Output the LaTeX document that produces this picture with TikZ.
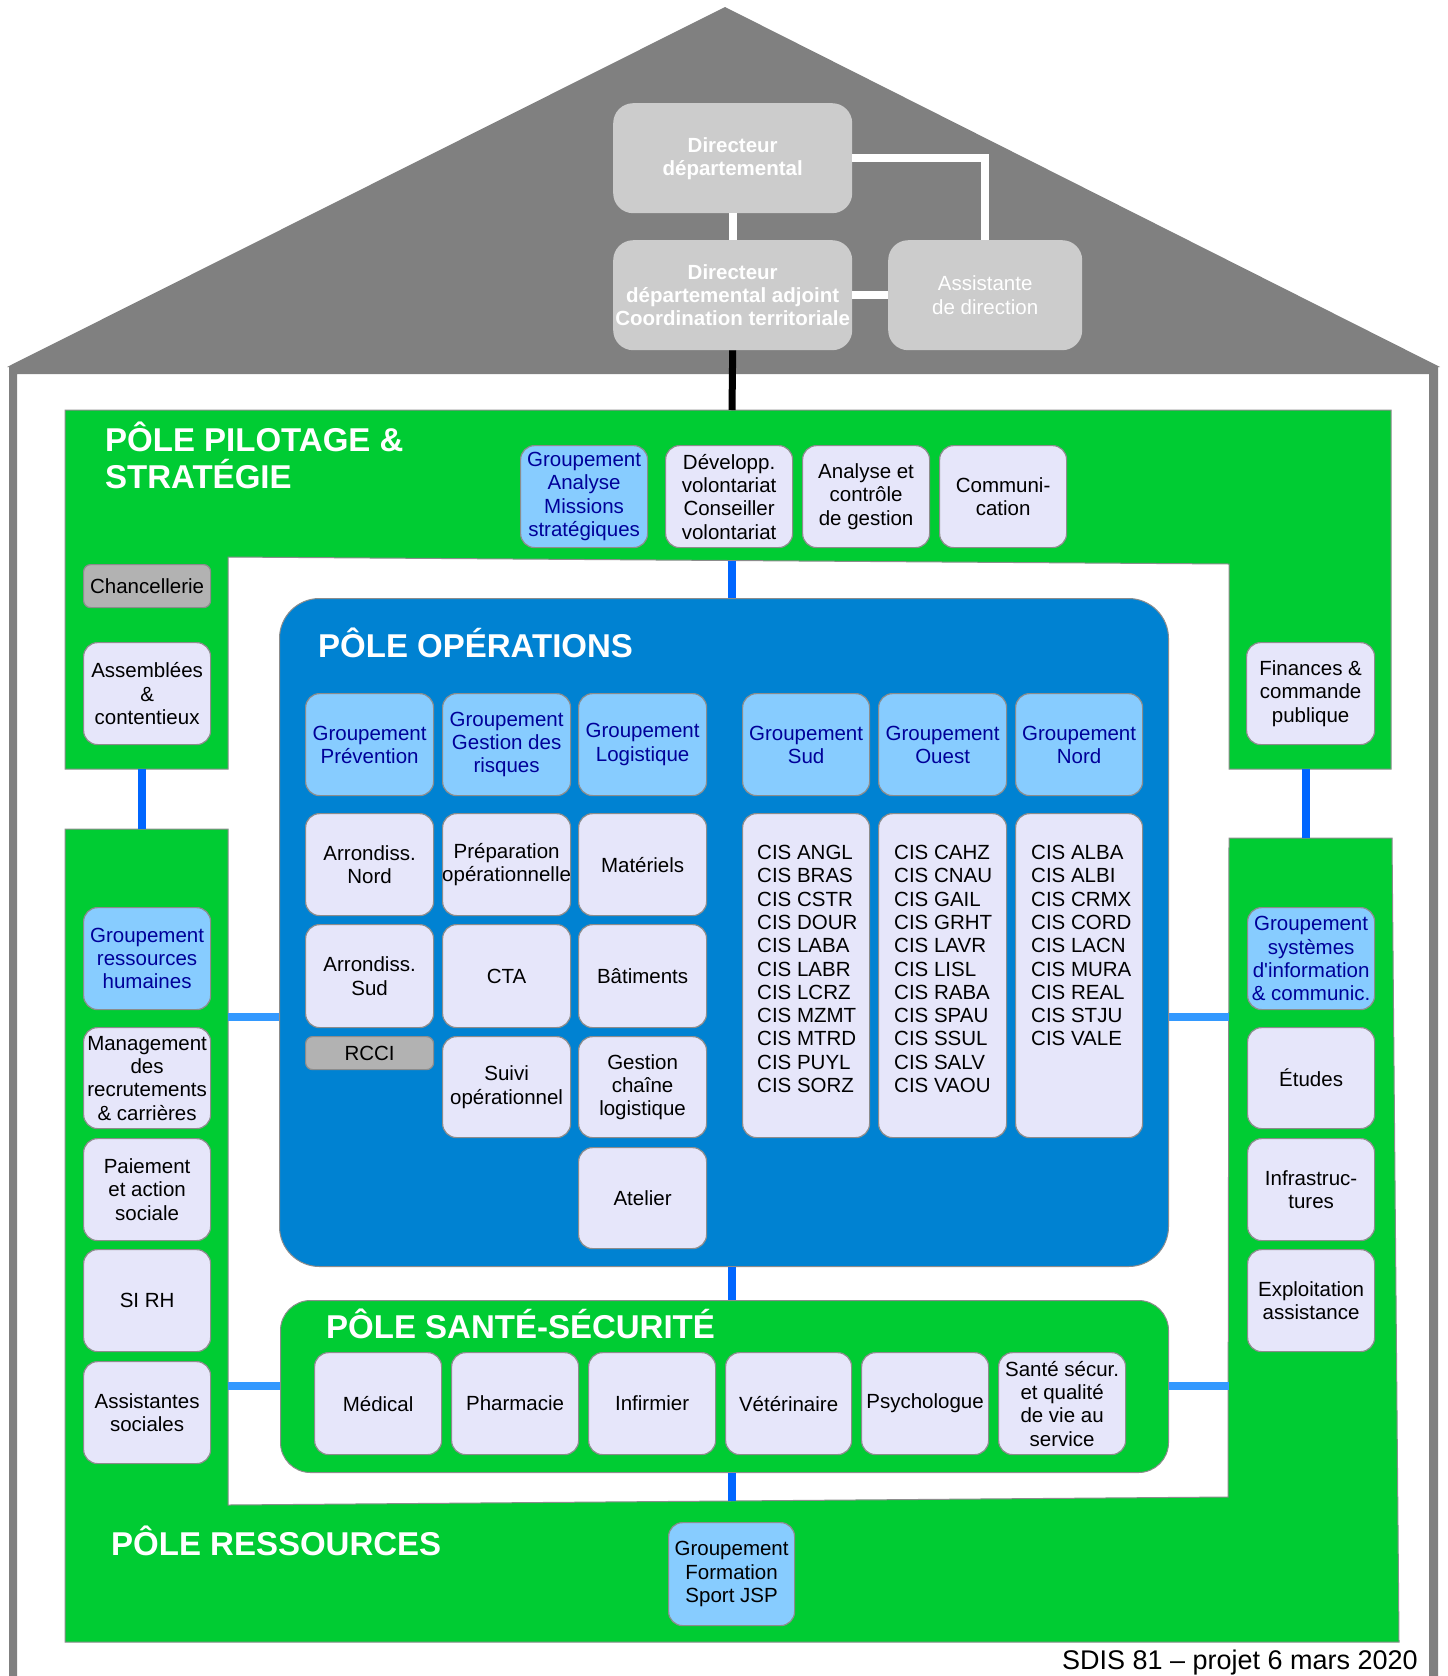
\documentclass[tikz,border=0pt]{standalone}
\usepackage{fontspec}
\setmainfont{Liberation Sans}
\definecolor{roofgray}{HTML}{808080}
\definecolor{dirgray}{HTML}{CCCCCC}
\definecolor{polegreen}{HTML}{00CC33}
\definecolor{opsblue}{HTML}{0082D2}
\definecolor{lav}{HTML}{E6E6FA}
\definecolor{grpblue}{HTML}{87CCFF}
\definecolor{navytxt}{HTML}{000099}
\definecolor{rcgray}{HTML}{B2B2B2}
\definecolor{boxline}{HTML}{8C8C8C}
\definecolor{linkblue}{HTML}{0066FF}
\definecolor{linklight}{HTML}{3399FF}
\newcommand\txtfont{\fontsize{20.5}{23.3}\selectfont}
\newcommand\dirfont{\fontsize{20.5}{23}\selectfont\bfseries}
\newcommand\ttlfont{\fontsize{33}{37}\selectfont\bfseries}
\newcommand\footfont{\fontsize{27}{30}\selectfont}
\newcommand\sqt{{\XeTeXglyph\XeTeXglyphindex "quotesingle"\relax}}
\newcommand\bx[8]{%
  \node[#6, anchor=north west, minimum width=#4pt, minimum height=#5pt] (#1) at (#2,#3) {};
  \node[#7] (#1t) at (#1.center) {#8};}
\begin{document}
\begin{tikzpicture}[x=1pt,y=-1pt,
  lavbox/.style={draw=boxline, fill=lav, rounded corners=14pt, line width=1.2pt, inner sep=0pt},
  grpbox/.style={draw=boxline, fill=grpblue, rounded corners=14pt, line width=1.2pt, inner sep=0pt},
  graybox/.style={draw=boxline, fill=rcgray, rounded corners=7pt, line width=1.2pt, inner sep=0pt},
  dirbox/.style={fill=dirgray, rounded corners=20pt, inner sep=0pt},
  txt/.style={inner sep=0pt, align=center, font=\txtfont, text=black},
  grptxt/.style={txt, text=navytxt},
  dirtxt/.style={inner sep=0pt, align=center, font=\dirfont, text=white},
  asttxt/.style={inner sep=0pt, align=center, font=\txtfont, text=white},
  listtxt/.style={inner sep=0pt, align=left, font=\txtfont, text=black},
  title/.style={inner sep=0pt, anchor=base west, font=\ttlfont, text=white},
  pole/.style={fill=polegreen, draw=boxline, line width=1pt},
  whitelink/.style={draw=white, line width=8pt},
  vlink/.style={draw=linkblue, line width=8pt},
  hlink/.style={draw=linklight, line width=8pt},
]
\useasboundingbox (0,0) rectangle (1448,1676);
\fill[white] (0,0) rectangle (1448,1676);
% house
\fill[roofgray] (7,367) -- (725,7) -- (1440,367) -- (1438,367) -- (1438,1690) -- (1429,1690)
  -- (1429,374) -- (17,374) -- (17,1690) -- (9,1690) -- (9,367) -- cycle;
% poles (green polygons)
\draw[pole] (65,410) -- (1391,410) -- (1391,769) -- (1229,769) -- (1229,564) -- (228,557)
  -- (228,769) -- (65,769) -- cycle;
\draw[pole] (65,829) -- (228,829) -- (228,1505) -- (1228,1497) -- (1229,838) -- (1392,838)
  -- (1399,1642) -- (65,1642) -- cycle;
\coordinate (pilT) at (732,410);
\coordinate (pilIn) at (732,560.5);
\coordinate (pilBL) at (142,769);
\coordinate (pilBR) at (1306,769);
\coordinate (resTL) at (142,829);
\coordinate (resTR) at (1306,838);
\coordinate (resIn) at (732,1501);
\coordinate (resL1) at (228,1017);
\coordinate (resR1) at (1229,1017);
\coordinate (resL2) at (228,1386);
\coordinate (resR2) at (1229,1386);
% operations and sante
\node[draw=boxline, line width=1pt, fill=opsblue, rounded corners=40pt, anchor=north west,
  minimum width=889pt, minimum height=668pt, inner sep=0pt] (ops) at (279,598) {};
\node[draw=boxline, line width=1pt, fill=polegreen, rounded corners=30pt, anchor=north west,
  minimum width=888pt, minimum height=172pt, inner sep=0pt] (sante) at (280,1300) {};
% direction
\bx{dir}{613}{103}{239}{110}{dirbox}{dirtxt}{Directeur\\départemental}
\bx{adj}{613}{240}{239}{110}{dirbox}{dirtxt}{Directeur\\départemental adjoint\\Coordination territoriale}
\bx{asst}{888}{240}{194}{110}{dirbox}{asttxt}{Assistante\\de direction}
\draw[whitelink] (dir.south) -- (adj.north);
\draw[whitelink] (dir.east) -| (asst.north);
\draw[whitelink] (adj.east) -- (asst.west);
\draw[black, line width=7pt] (adj.south) -- (pilT);
% blue links
\draw[vlink] (pilIn) -- (pilIn |- ops.north);
\draw[vlink] (ops.south -| pilIn) -- (sante.north -| pilIn);
\draw[vlink] (sante.south -| pilIn) -- (resIn);
\draw[vlink] (pilBL) -- (resTL);
\draw[vlink] (pilBR) -- (resTR);
\draw[hlink] (resL1) -- (resL1 -| ops.west);
\draw[hlink] (resR1 -| ops.east) -- (resR1);
\draw[hlink] (resL2) -- (resL2 -| sante.west);
\draw[hlink] (resR2 -| sante.east) -- (resR2);
% titles
\node[title] (tpil1) at (105,451) {PÔLE PILOTAGE \&};
\node[title] (tpil2) at (105,488) {STRATÉGIE};
\node[title] (tops) at (318,657) {PÔLE OPÉRATIONS};
\node[title] (tsan) at (326,1338) {PÔLE SANTÉ-SÉCURITÉ};
\node[title] (tres) at (111,1555) {PÔLE RESSOURCES};
% pilotage boxes
\bx{gams}{520}{445}{127}{102}{grpbox}{grptxt}{Groupement\\Analyse\\Missions\\stratégiques}
\bx{dev}{665}{445}{127}{102}{lavbox}{txt}{Développ.\\volontariat\\Conseiller\\volontariat}
\bx{acg}{802}{445}{127}{102}{lavbox}{txt}{Analyse et\\contrôle\\de gestion}
\bx{com}{939}{445}{127}{102}{lavbox}{txt}{Communi-\\cation}
\bx{chan}{83}{564}{127}{43}{graybox}{txt}{Chancellerie}
\bx{asse}{83}{642}{127}{102}{lavbox}{txt}{Assemblées\\\&\\contentieux}
\bx{fin}{1246}{642}{128}{102}{lavbox}{txt}{Finances \&\\commande\\publique}
% operations boxes
\bx{gprev}{305}{693}{128}{102}{grpbox}{grptxt}{Groupement\\Prévention}
\bx{ggr}{442}{693}{128}{102}{grpbox}{grptxt}{Groupement\\Gestion des\\risques}
\bx{glog}{578}{693}{128}{102}{grpbox}{grptxt}{Groupement\\Logistique}
\bx{gsud}{742}{693}{127}{102}{grpbox}{grptxt}{Groupement\\Sud}
\bx{gouest}{878}{693}{128}{102}{grpbox}{grptxt}{Groupement\\Ouest}
\bx{gnord}{1015}{693}{127}{102}{grpbox}{grptxt}{Groupement\\Nord}
\bx{arn}{305}{813}{128}{102}{lavbox}{txt}{Arrondiss.\\Nord}
\bx{prep}{442}{813}{128}{102}{lavbox}{txt}{Préparation\\opérationnelle}
\bx{mat}{578}{813}{128}{102}{lavbox}{txt}{Matériels}
\bx{ars}{305}{924}{128}{103}{lavbox}{txt}{Arrondiss.\\Sud}
\bx{cta}{442}{924}{128}{103}{lavbox}{txt}{CTA}
\bx{bat}{578}{924}{128}{103}{lavbox}{txt}{Bâtiments}
\bx{rcci}{305}{1036}{128}{33}{graybox}{txt}{RCCI}
\bx{suivi}{442}{1036}{128}{101}{lavbox}{txt}{Suivi\\opérationnel}
\bx{gcl}{578}{1036}{128}{101}{lavbox}{txt}{Gestion\\chaîne\\logistique}
\bx{atel}{578}{1147}{128}{101}{lavbox}{txt}{Atelier}
\node[lavbox, anchor=north west, minimum width=127pt, minimum height=324pt] (csud) at (742,813) {};
\node[lavbox, anchor=north west, minimum width=128pt, minimum height=324pt] (couest) at (878,813) {};
\node[lavbox, anchor=north west, minimum width=127pt, minimum height=324pt] (cnord) at (1015,813) {};
\node[listtxt, anchor=north west] (lsud) at (757,845) {CIS ANGL\\CIS BRAS\\CIS CSTR\\CIS DOUR\\CIS LABA\\CIS LABR\\CIS LCRZ\\CIS MZMT\\CIS MTRD\\CIS PUYL\\CIS SORZ};
\node[listtxt, anchor=north west] (louest) at (894,845) {CIS CAHZ\\CIS CNAU\\CIS GAIL\\CIS GRHT\\CIS LAVR\\CIS LISL\\CIS RABA\\CIS SPAU\\CIS SSUL\\CIS SALV\\CIS VAOU};
\node[listtxt, anchor=north west] (lnord) at (1031,845) {CIS ALBA\\CIS ALBI\\CIS CRMX\\CIS CORD\\CIS LACN\\CIS MURA\\CIS REAL\\CIS STJU\\CIS VALE};
% ressources boxes left
\bx{grh}{83}{907}{127}{102}{grpbox}{grptxt}{Groupement\\ressources\\humaines}
\bx{mgt}{83}{1027}{127}{101}{lavbox}{txt}{Management\\des\\recrutements\\\& carrières}
\bx{pai}{83}{1138}{127}{102}{lavbox}{txt}{Paiement\\et action\\sociale}
\bx{sirh}{83}{1249}{127}{102}{lavbox}{txt}{SI RH}
\bx{assoc}{83}{1361}{127}{102}{lavbox}{txt}{Assistantes\\sociales}
% ressources boxes right
\bx{gsi}{1247}{907}{127}{102}{grpbox}{grptxt}{Groupement\\systèmes\\d\sqt information\\\& communic.}
\bx{etu}{1247}{1027}{127}{101}{lavbox}{txt}{Études}
\bx{infra}{1247}{1138}{127}{102}{lavbox}{txt}{Infrastruc-\\tures}
\bx{expl}{1247}{1249}{127}{102}{lavbox}{txt}{Exploitation\\assistance}
% sante boxes
\bx{med}{314}{1352}{127}{102}{lavbox}{txt}{Médical}
\bx{pha}{451}{1352}{127}{102}{lavbox}{txt}{Pharmacie}
\bx{inf}{588}{1352}{127}{102}{lavbox}{txt}{Infirmier}
\bx{vet}{725}{1352}{126}{102}{lavbox}{txt}{Vétérinaire}
\bx{psy}{861}{1352}{127}{102}{lavbox}{txt}{Psychologue}
\bx{ssq}{998}{1352}{127}{102}{lavbox}{txt}{Santé sécur.\\et qualité\\de vie au\\service}
% formation
\bx{form}{668}{1522}{126}{103}{grpbox}{txt}{Groupement\\Formation\\Sport JSP}
% footer
\node[inner sep=0pt, anchor=base east, font=\footfont] (foot) at (1418,1669) {SDIS 81 – projet 6 mars 2020};
\end{tikzpicture}
\end{document}
